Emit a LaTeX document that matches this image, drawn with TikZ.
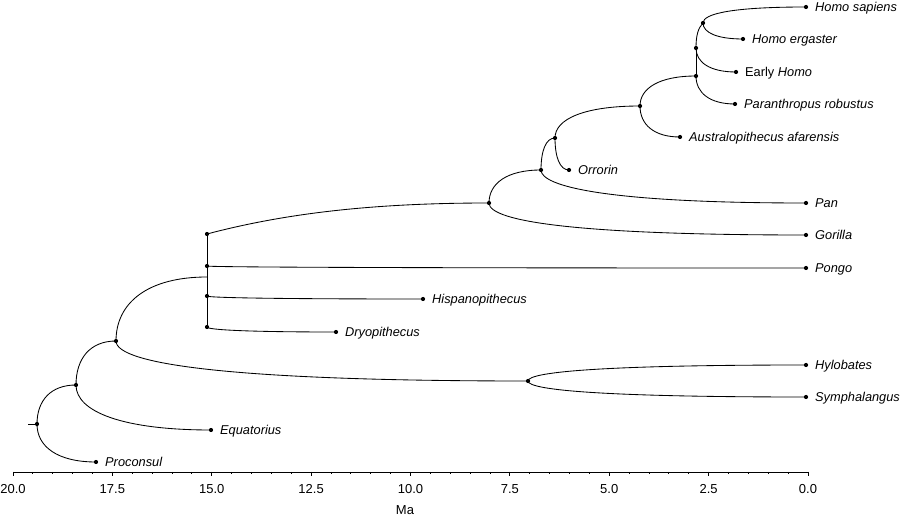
\documentclass[tikz,border=0pt]{standalone}
\usepackage{fontspec}
\setmainfont{Liberation Sans}
\usetikzlibrary{calc}
\tikzset{
  branch/.style={line width=0.85pt, black},
  tipdot/.style={fill=black},
  taxon/.style={anchor=base west, inner sep=0pt, xshift=9pt, yshift=-4.6pt, font=\fontsize{12.8}{15}\selectfont\itshape},
  axislabel/.style={anchor=center, inner sep=0pt, font=\fontsize{13}{15}\selectfont},
}
\newcommand\brn[4]{\draw[branch] let \p1=(#1), \p2=(#2) in (#1) .. controls (\x1,{\y1+#3*(\y2-\y1)}) and ({\x1+#4*(\x2-\x1)},\y2) .. (#2);}
\begin{document}
\begin{tikzpicture}[x=1pt,y=-1pt]
\useasboundingbox (0,0) rectangle (900,518);
% internal nodes
\coordinate (stub) at (28,424);
\coordinate (root) at (37,424);
\coordinate (A) at (76,385);
\coordinate (B) at (116,341);
\coordinate (Cj) at (207,277);
\coordinate (C1) at (207,234);
\coordinate (C2) at (207,266);
\coordinate (C3) at (207,296);
\coordinate (C4) at (207,327);
\coordinate (H) at (528,381);
\coordinate (n7) at (489,203);
\coordinate (n6) at (541,170);
\coordinate (n5) at (555,138);
\coordinate (n4) at (640,106);
\coordinate (n3) at (696,76);
\coordinate (n2) at (696,48);
\coordinate (n1) at (703,23);
% tips
\coordinate (hsap) at (806,7);
\coordinate (herg) at (743,39);
\coordinate (ehomo) at (736,72);
\coordinate (prob) at (735,104);
\coordinate (aafa) at (680,137);
\coordinate (orr) at (569,170);
\coordinate (pan) at (806,203);
\coordinate (gor) at (806,235);
\coordinate (pon) at (806,268);
\coordinate (hisp) at (423,299);
\coordinate (dryo) at (336,332);
\coordinate (hyl) at (806,365);
\coordinate (sym) at (806,397);
\coordinate (equ) at (211,430);
\coordinate (pro) at (96,462);
% branches
\draw[branch] (stub) -- (root);
\brn{root}{A}{0.6}{0.35}
\brn{root}{pro}{0.6}{0.35}
\brn{A}{B}{0.6}{0.35}
\brn{A}{equ}{0.6}{0.35}
\brn{B}{Cj}{0.6}{0.35}
\brn{B}{H}{0.6}{0.3}
\draw[branch] (C1) -- (C4);
\draw[branch] (C1) .. controls (290,212) and (380,203) .. (n7);
\brn{C2}{pon}{0.6}{0.35}
\brn{C3}{hisp}{0.6}{0.35}
\brn{C4}{dryo}{0.6}{0.35}
\brn{H}{hyl}{0.6}{0.3}
\brn{H}{sym}{0.6}{0.3}
\brn{n7}{n6}{0.6}{0.35}
\brn{n7}{gor}{0.6}{0.3}
\brn{n6}{n5}{0.6}{0.35}
\brn{n6}{pan}{0.5}{0.25}
\brn{n5}{n4}{0.6}{0.35}
\brn{n5}{orr}{0.6}{0.35}
\brn{n4}{n3}{0.6}{0.35}
\brn{n4}{aafa}{0.6}{0.35}
\draw[branch] (n3) -- (n2);
\brn{n3}{prob}{0.6}{0.35}
\draw[branch] (n2) .. controls (696,36) and (698,28) .. (n1);
\brn{n2}{ehomo}{0.6}{0.35}
\brn{n1}{hsap}{0.6}{0.3}
\brn{n1}{herg}{0.6}{0.35}
% dots
\foreach \p in {root,A,B,C1,C2,C3,C4,H,n7,n6,n5,n4,n3,n2,n1,hsap,herg,ehomo,prob,aafa,orr,pan,gor,pon,hisp,dryo,hyl,sym,equ,pro}
  \fill[tipdot] (\p) circle (2.1);
% labels
\node[taxon] (lhsap) at (hsap) {Homo sapiens};
\node[taxon] (lherg) at (herg) {Homo ergaster};
\node[taxon] (lehomo) at (ehomo) {\upshape Early \itshape Homo};
\node[taxon] (lprob) at (prob) {Paranthropus robustus};
\node[taxon] (laafa) at (aafa) {Australopithecus afarensis};
\node[taxon] (lorr) at (orr) {Orrorin};
\node[taxon] (lpan) at (pan) {Pan};
\node[taxon] (lgor) at (gor) {Gorilla};
\node[taxon] (lpon) at (pon) {Pongo};
\node[taxon] (lhisp) at (hisp) {Hispanopithecus};
\node[taxon] (ldryo) at (dryo) {Dryopithecus};
\node[taxon] (lhyl) at (hyl) {Hylobates};
\node[taxon] (lsym) at (sym) {Symphalangus};
\node[taxon] (lequ) at (equ) {Equatorius};
\node[taxon] (lpro) at (pro) {Proconsul};
% axis
\draw[line width=0.8pt] (13,472) -- (808,472);
\foreach \i in {0,...,40}
  \draw[line width=0.8pt] ({13+\i*19.875},472) -- ({13+\i*19.875},474.5);
\foreach \i in {0,...,8}
  \draw[line width=0.8pt] ({13+\i*99.375},472) -- ({13+\i*99.375},476);
\foreach \i/\t in {0/20.0,1/17.5,2/15.0,3/12.5,4/10.0,5/7.5,6/5.0,7/2.5,8/0.0}
  \node[axislabel] (ax\i) at ({13+\i*99.375},489) {\t};
\node[axislabel] (ma) at (405,510) {Ma};
\end{tikzpicture}
\end{document}
